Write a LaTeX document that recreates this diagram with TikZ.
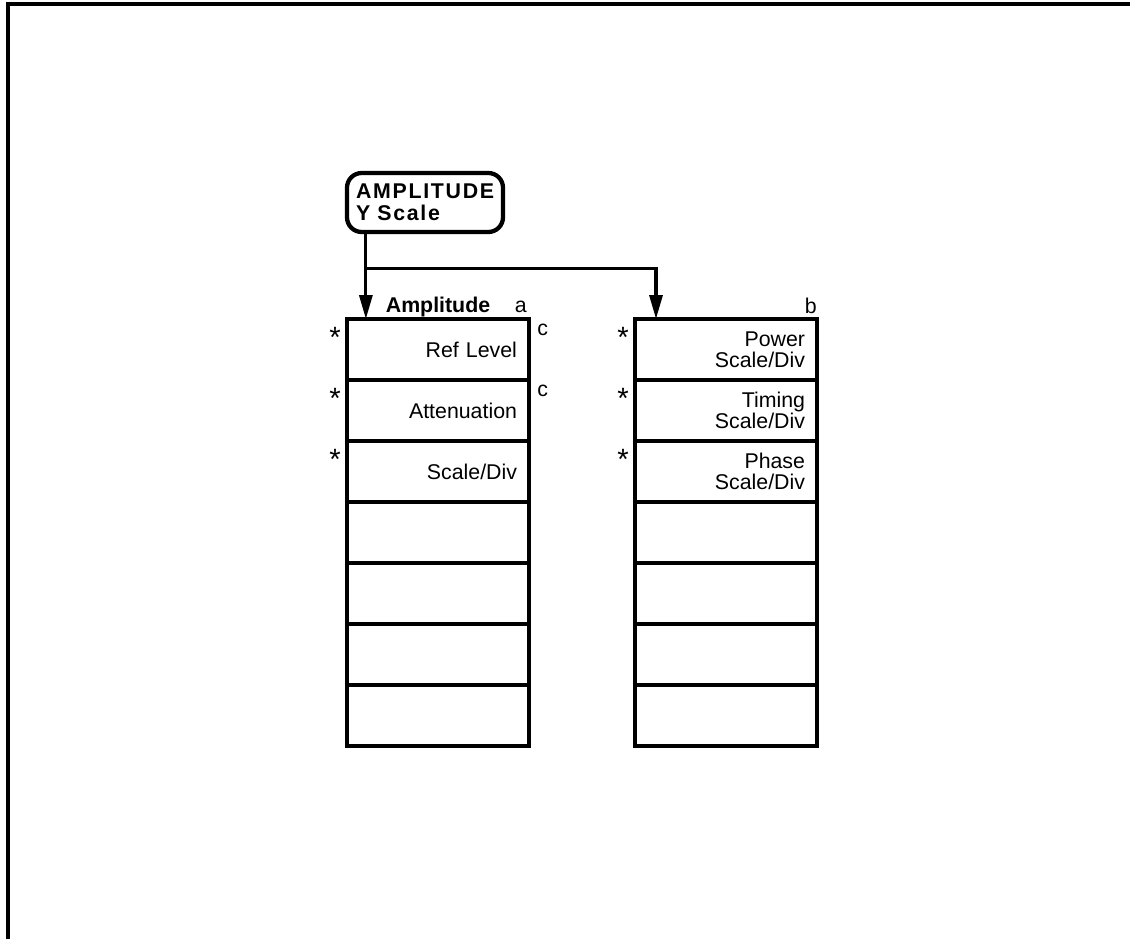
\documentclass[tikz,border=0pt]{standalone}
\usepackage{fontspec}
\setmainfont{Liberation Sans}
\newfontfamily\keyfont[LetterSpace=8]{Liberation Sans}
\usetikzlibrary{positioning,arrows.meta,calc}

\begin{document}
\begin{tikzpicture}[x=0.75pt, y=-0.75pt, node distance=0pt,
  every node/.style={font=\fontsize{16}{16}\selectfont},
  hardkey/.style={draw, line width=3.2pt, rounded corners=11pt,
    minimum width=117pt, minimum height=44.25pt, inner xsep=6.75pt,
    text width=103.5pt, align=left,
    font=\keyfont\fontsize{16}{16.5}\selectfont\bfseries},
  softkey/.style={draw, line width=2.5pt, outer sep=0pt,
    minimum width=136.5pt, minimum height=45.75pt, inner xsep=9pt,
    text width=118.5pt, align=right},
  tagtext/.style={inner sep=0pt},
  flow/.style={line width=2.4pt, -{Triangle[width=9.75pt,length=18pt]}}]
  \useasboundingbox (0,0) rectangle (1130,939);
  % frame
  \draw[line width=3pt] (8,939) -- (8,4) -- (1130,4);

  % front panel key
  \node[hardkey] (key) at (425,202.5) {AMPLITUDE\\Y Scale};

  % Amplitude menu
  \node[softkey] (amp1) at (438,349.5) {Ref Level};
  \node[softkey, below=of amp1] (amp2) {Attenuation};
  \node[softkey, below=of amp2] (amp3) {Scale/Div};
  \foreach \i/\j in {3/4,4/5,5/6,6/7}
    \node[softkey, below=of amp\i] (amp\j) {};

  % scale menu
  \node[softkey, right=79.5pt of amp1] (pw1) {Power\\Scale/Div};
  \node[softkey, below=of pw1] (pw2) {Timing\\Scale/Div};
  \node[softkey, below=of pw2] (pw3) {Phase\\Scale/Div};
  \foreach \i/\j in {3/4,4/5,5/6,6/7}
    \node[softkey, below=of pw\i] (pw\j) {};

  % labels
  \node[tagtext, font=\fontsize{16}{16}\selectfont\bfseries, anchor=base]
    (amptitle) at ([yshift=5.25pt]amp1.north) {Amplitude};
  \node[tagtext, anchor=base east] (tag-a) at ([xshift=-1.5pt,yshift=5.25pt]amp1.north east) {a};
  \node[tagtext, anchor=base east] (tag-b) at ([yshift=4.5pt]pw1.north east) {b};
  \foreach \n in {amp1,amp2}
    \node[tagtext, anchor=base west] (c-\n) at ([xshift=6pt,yshift=-12pt]\n.north east) {c};
  \foreach \n in {amp1,amp2,amp3,pw1,pw2,pw3}
    \node[tagtext, font=\fontsize{22}{22}\selectfont, anchor=north]
      (star-\n) at ([xshift=-9pt,yshift=-6pt]\n.north west) {*};

  % connectors
  \coordinate (tap) at ([xshift=15.75pt]key.south west);
  \coordinate (fork) at ($(tap)+(0,34)$);
  \draw[flow] (tap) -- (tap |- amp1.north);
  \draw[flow] (fork) -| ([xshift=15.75pt]pw1.north west);
\end{tikzpicture}
\end{document}
